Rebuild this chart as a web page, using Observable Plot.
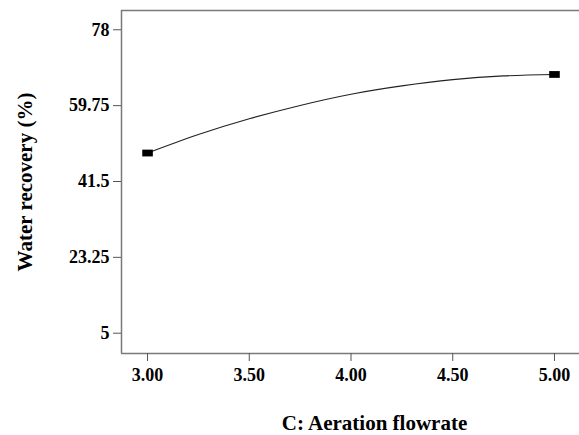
<!DOCTYPE html>
<html>
<head>
<meta charset="utf-8">
<script src="https://cdn.jsdelivr.net/npm/d3@7"></script>
<script src="https://cdn.jsdelivr.net/npm/@observablehq/plot@0.6"></script>
<style>
  html, body { margin: 0; padding: 0; background: #fff; }
  #chart svg { display: block; }
</style>
</head>
<body>
<div id="chart"></div>
<script>
// ---- data ----
const xTicks = [3.0, 3.5, 4.0, 4.5, 5.0];
const xTickLabels = ["3.00", "3.50", "4.00", "4.50", "5.00"];
const yTicks = [5, 23.25, 41.5, 59.75, 78];
const yTickLabels = ["5", "23.25", "41.5", "59.75", "78"];

// predicted response curve
const flowrate = [3.00, 3.25, 3.50, 3.75, 4.00, 4.25, 4.50, 4.75, 5.00];
const recovery = [48.35, 52.8, 56.6, 59.8, 62.5, 64.5, 66.0, 66.9, 67.25];

// design points (end markers)
const designFlow = [3.0, 5.0];
const designRecovery = [48.35, 67.25];

const xDomain = [2.872, 5.123];
const yDomain = [0.12, 82.64];

const xLabel = "C: Aeration flowrate";
const yLabel = "Water recovery (%)";

// ---- build tables ----
const curve = flowrate.map((x, i) => ({x, y: recovery[i]}));
const design = designFlow.map((x, i) => ({x, y: designRecovery[i]}));

const font = "'Liberation Serif', 'Times New Roman', Times, serif";
const frameColor = "#7a7a7a";

const rectSymbol = {
  draw(context) {
    context.moveTo(-5.3, -3.4);
    context.lineTo(5.3, -3.4);
    context.lineTo(5.3, 3.4);
    context.lineTo(-5.3, 3.4);
    context.closePath();
  }
};

const chart = Plot.plot({
  width: 579,
  height: 435,
  marginLeft: 121,
  marginRight: 0,
  marginTop: 10,
  marginBottom: 82,
  style: {fontFamily: font, background: "#fff", overflow: "visible"},
  x: {domain: xDomain},
  y: {domain: yDomain},
  marks: [
    // frame: left, top, bottom
    Plot.ruleX([xDomain[0]], {stroke: frameColor, strokeWidth: 1.5}),
    Plot.ruleY([yDomain[0], yDomain[1]], {stroke: frameColor, strokeWidth: 1.5}),
    Plot.axisY({
      ticks: yTicks,
      tickFormat: (d) => yTickLabels[yTicks.indexOf(d)],
      tickSize: 8,
      tickPadding: 4,
      stroke: "#555",
      fontSize: 18,
      fontWeight: "bold",
      fill: "#000",
      label: null
    }),
    Plot.axisX({
      ticks: xTicks,
      tickFormat: (d) => xTickLabels[xTicks.indexOf(d)],
      tickSize: 8,
      tickPadding: 7,
      stroke: "#555",
      fontSize: 18,
      fontWeight: "bold",
      fill: "#000",
      label: null
    }),
    Plot.line(curve, {x: "x", y: "y", curve: "natural", stroke: "#222", strokeWidth: 1.1}),
    Plot.dot(design, {x: "x", y: "y", symbol: rectSymbol, r: 4, fill: "#000", stroke: "none"}),
    Plot.text([xLabel], {
      frameAnchor: "bottom", dx: 24, dy: 76, lineAnchor: "bottom", textAnchor: "middle",
      fontSize: 21, fontWeight: "bold", fill: "#000"
    }),
    Plot.text([yLabel], {
      frameAnchor: "left", dx: -96, rotate: -90, lineAnchor: "middle", textAnchor: "middle",
      fontSize: 21, fontWeight: "bold", fill: "#000"
    })
  ]
});

document.getElementById("chart").appendChild(chart);
</script>
</body>
</html>
